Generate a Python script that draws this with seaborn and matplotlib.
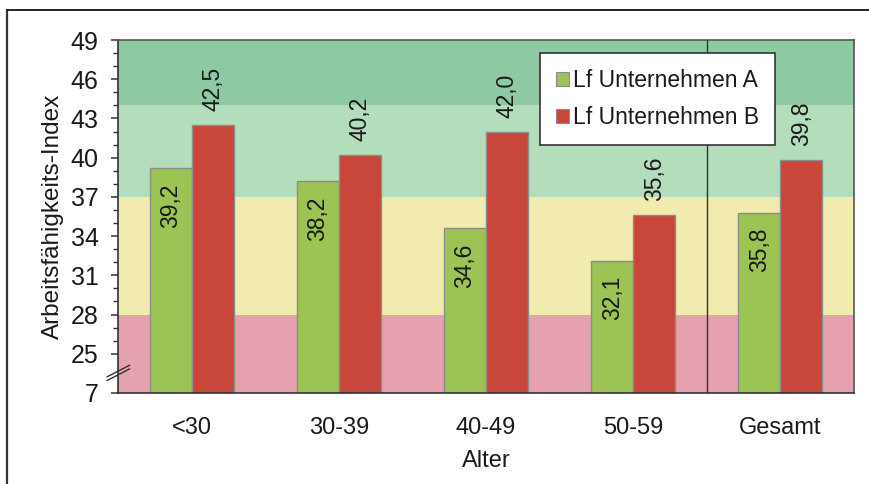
import matplotlib
matplotlib.use("Agg")
import matplotlib.pyplot as plt
import seaborn as sns
import pandas as pd
from matplotlib.patches import Patch
from matplotlib.lines import Line2D
from matplotlib.transforms import blended_transform_factory

# ---- data ----
categories = ["<30", "30-39", "40-49", "50-59", "Gesamt"]
series_names = ["Lf Unternehmen A", "Lf Unternehmen B"]
values_a = [39.2, 38.2, 34.6, 32.1, 35.8]
values_b = [42.5, 40.2, 42.0, 35.6, 39.8]
y_tick_values = [7, 25, 28, 31, 34, 37, 40, 43, 46, 49]
band_edges = [28, 37, 44]   # pink | yellow | light green | dark green
x_label = "Alter"
y_label = "Arbeitsfähigkeits-Index"

# broken axis: 7 is drawn where 22 would be
BREAK_LOW, BREAK_POS = 7, 22
def tr(v):
    return BREAK_POS if v <= BREAK_LOW else v

def fmt(v):
    return f"{v:.1f}".replace(".", ",")

df = pd.DataFrame({
    "Alter": categories * 2,
    "Serie": [series_names[0]] * len(categories) + [series_names[1]] * len(categories),
    "Wert": values_a + values_b,
})

sns.set_theme(style="white")
plt.rcParams["font.family"] = ["Liberation Sans", "DejaVu Sans"]

col_green = "#9cc455"
col_red = "#c8473a"
band_cols = ["#e6a1ae", "#f2ebb0", "#b3ddbb", "#8fc9a4"]

fig = plt.figure(figsize=(8.69, 4.84), dpi=100)
ax = fig.add_axes([118 / 869, 1 - 393 / 484, 736 / 869, 353 / 484])

ymin, ymax = BREAK_POS, 49
edges = [ymin] + band_edges + [ymax]
for lo, hi, c in zip(edges[:-1], edges[1:], band_cols):
    ax.axhspan(lo, hi, color=c, zorder=0, lw=0)

sns.barplot(data=df, x="Alter", y="Wert", hue="Serie", order=categories,
            hue_order=series_names, palette=[col_green, col_red],
            width=0.57, edgecolor="#8c8c8c", linewidth=1.0, saturation=1,
            ax=ax, zorder=2, legend=False)

ax.set_ylim(ymin, ymax)
ax.set_xlim(-0.5, len(categories) - 0.5)
ax.axvline(len(categories) - 1.5, color="#333333", lw=1.0, zorder=3)

# value labels
for ci, cont in enumerate(ax.containers):
    for rect, v in zip(cont.patches, cont.datavalues):
        xc = rect.get_x() + rect.get_width() / 2
        if ci == 0:
            ax.annotate(fmt(v), (xc, v), xytext=(0, -15), textcoords="offset pixels",
                        rotation=90, ha="center", va="top", fontsize=16.5,
                        color="#1a1a1a", zorder=4)
        else:
            ax.annotate(fmt(v), (xc, v), xytext=(0, 14), textcoords="offset pixels",
                        rotation=90, ha="center", va="bottom", fontsize=16.5,
                        color="#1a1a1a", zorder=4)

# ticks
ax.set_yticks([tr(v) for v in y_tick_values])
ax.set_yticklabels([str(v) for v in y_tick_values])
minors = [v for v in range(25, 50) if v not in y_tick_values]
ax.set_yticks(minors, minor=True)
ax.tick_params(axis="y", which="major", direction="out", length=5, width=1.1,
               color="#333333", labelsize=18, pad=9, left=True)
ax.tick_params(axis="y", which="minor", direction="out", length=3.5, width=1.0,
               color="#333333", left=True)
ax.tick_params(axis="x", length=0, labelsize=17, pad=17)
for t in ax.get_yticklabels() + ax.get_xticklabels():
    t.set_color("#1a1a1a")

ax.set_xlabel(x_label, fontsize=17, color="#1a1a1a", labelpad=8)
ax.set_ylabel(y_label, fontsize=17.5, color="#1a1a1a", labelpad=5)

for s in ax.spines.values():
    s.set_visible(True)
    s.set_color("#555555")
    s.set_linewidth(1.2)
ax.spines["left"].set_color("#333333")
ax.spines["bottom"].set_color("#333333")

# axis break marks
bt = blended_transform_factory(ax.transAxes, ax.transData)
for dy in (0.0, 0.28):
    ax.add_line(Line2D([-0.015, 0.016], [22.95 + dy, 23.85 + dy], transform=bt,
                       color="#333333", lw=1.0, clip_on=False, zorder=5))

# legend
handles = [Patch(facecolor=col_green, edgecolor="#8c8c8c", lw=0.8),
           Patch(facecolor=col_red, edgecolor="#8c8c8c", lw=0.8)]
leg = ax.legend(handles, series_names, loc="upper left",
                bbox_to_anchor=((540 - 118) / 736, (393 - 53) / 353),
                borderaxespad=0, fontsize=16.5, handlelength=0.55, handleheight=0.55,
                handletextpad=0.2, labelspacing=0.6, borderpad=0.7,
                fancybox=False, framealpha=1, edgecolor="#333333",
                facecolor="white")
leg.get_frame().set_linewidth(1.2)
leg.set_zorder(6)
for t in leg.get_texts():
    t.set_color("#1a1a1a")

# outer frame (left and top lines)
fig.add_artist(Line2D([7 / 869, 7 / 869], [0, 1 - 10 / 484], transform=fig.transFigure,
                      color="#333333", lw=1.6))
fig.add_artist(Line2D([7 / 869, 1], [1 - 10 / 484, 1 - 10 / 484], transform=fig.transFigure,
                      color="#222222", lw=1.4))

fig.savefig("out.png", dpi=100)
